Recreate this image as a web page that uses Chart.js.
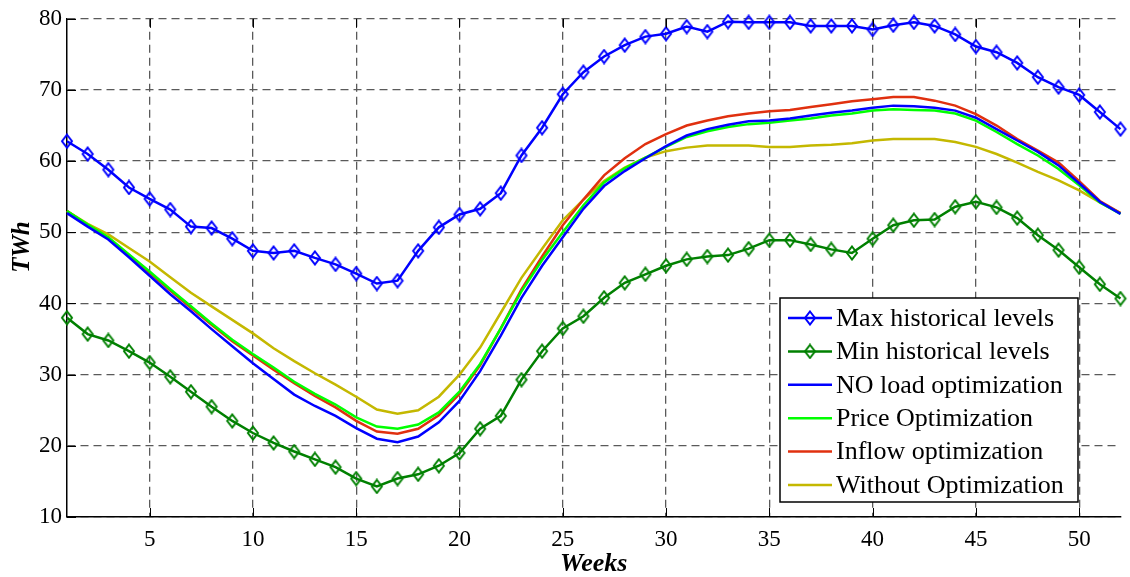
<!DOCTYPE html>
<html>
<head>
<meta charset="utf-8">
<script src="https://cdn.jsdelivr.net/npm/chart.js@4/dist/chart.umd.min.js"></script>
<style>
    body { margin: 0; background: #fff; }
    #wrap { width: 1130px; height: 577px; position: relative; }
</style>
</head>
<body>
<div id="wrap"><canvas id="chartLevels"></canvas></div>
<script>
// weekly reservoir levels, TWh
const weeks = [1, 2, 3, 4, 5, 6, 7, 8, 9, 10, 11, 12, 13, 14, 15, 16, 17, 18, 19, 20, 21, 22, 23, 24, 25, 26,
    27, 28, 29, 30, 31, 32, 33, 34, 35, 36, 37, 38, 39, 40, 41, 42, 43, 44, 45, 46, 47, 48, 49, 50, 51, 52];

const maxHistorical = [62.8, 61.0, 58.8, 56.3, 54.7, 53.2, 50.8, 50.6, 49.1, 47.4,
    47.1, 47.4, 46.4, 45.5, 44.2, 42.8, 43.2, 47.4, 50.7, 52.5,
    53.3, 55.5, 60.8, 64.7, 69.4, 72.5, 74.7, 76.3, 77.5, 77.9,
    78.9, 78.2, 79.6, 79.5, 79.5, 79.5, 79.0, 79.0, 79.0, 78.5,
    79.1, 79.5, 79.0, 77.8, 76.1, 75.3, 73.8, 71.8, 70.4, 69.3,
    66.9, 64.5];
const minHistorical = [38.0, 35.7, 34.8, 33.3, 31.7, 29.7, 27.6, 25.5, 23.5, 21.8,
    20.4, 19.2, 18.1, 17.0, 15.4, 14.3, 15.4, 16.0, 17.2, 19.0,
    22.4, 24.2, 29.3, 33.3, 36.5, 38.2, 40.8, 42.9, 44.1, 45.3,
    46.2, 46.6, 46.8, 47.7, 48.9, 48.9, 48.3, 47.6, 47.1, 49.1,
    51.0, 51.7, 51.8, 53.6, 54.3, 53.5, 52.0, 49.6, 47.5, 45.1,
    42.7, 40.7];
const noLoadOpt = [52.7, 50.8, 49.0, 46.5, 43.9, 41.3, 38.9, 36.4, 34.0, 31.6,
    29.4, 27.2, 25.6, 24.2, 22.5, 21.0, 20.5, 21.3, 23.3, 26.3,
    30.5, 35.5, 40.8, 45.3, 49.3, 53.3, 56.5, 58.6, 60.4, 62.1,
    63.6, 64.5, 65.1, 65.6, 65.7, 66.0, 66.4, 66.8, 67.1, 67.5,
    67.8, 67.7, 67.5, 67.1, 66.1, 64.5, 62.9, 61.3, 59.4, 56.9,
    54.3, 52.6];
const priceOpt = [53.0, 51.1, 49.3, 46.9, 44.5, 42.0, 39.6, 37.2, 34.9, 32.9,
    31.0, 29.0, 27.3, 25.8, 24.0, 22.7, 22.4, 23.0, 24.7, 27.6,
    31.5, 36.5, 41.7, 46.1, 50.0, 53.8, 57.0, 59.0, 60.5, 62.0,
    63.4, 64.2, 64.8, 65.2, 65.4, 65.7, 66.0, 66.4, 66.7, 67.1,
    67.3, 67.2, 67.1, 66.7, 65.7, 64.1, 62.4, 60.8, 58.9, 56.6,
    54.2, 52.6];
const inflowOpt = [53.0, 51.0, 49.2, 46.8, 44.3, 41.8, 39.4, 37.0, 34.7, 32.7,
    30.7, 28.8, 27.0, 25.4, 23.5, 22.0, 21.7, 22.4, 24.3, 27.3,
    31.3, 36.5, 42.0, 46.6, 51.0, 54.6, 58.0, 60.4, 62.4, 63.8,
    65.0, 65.7, 66.3, 66.7, 67.0, 67.2, 67.6, 68.0, 68.4, 68.7,
    69.0, 69.0, 68.5, 67.8, 66.6, 65.0, 63.1, 61.5, 59.8, 57.2,
    54.4, 52.7];
const withoutOpt = [53.0, 51.2, 49.7, 47.8, 45.9, 43.7, 41.5, 39.6, 37.7, 35.8,
    33.7, 31.9, 30.2, 28.6, 26.9, 25.1, 24.5, 25.0, 26.9, 30.0,
    33.8, 38.7, 43.6, 47.7, 51.7, 54.6, 57.2, 59.1, 60.5, 61.4,
    61.9, 62.2, 62.2, 62.2, 62.0, 62.0, 62.2, 62.3, 62.5, 62.9,
    63.1, 63.1, 63.1, 62.7, 62.0, 61.0, 59.8, 58.5, 57.3, 55.9,
    54.2, 52.7];

const seriesNames = ["Max historical levels", "Min historical levels", "NO load optimization",
    "Price Optimization", "Inflow optimization", "Without Optimization"];

const serif = "'Liberation Serif', 'Times New Roman', serif";

function diamond(color) {
    let c = document.createElement("canvas");
    c.width = 14;
    c.height = 16;
    let g = c.getContext("2d");
    g.strokeStyle = color;
    g.lineWidth = 2;
    g.beginPath();
    g.moveTo(7, 1.5);
    g.lineTo(12, 8);
    g.lineTo(7, 14.5);
    g.lineTo(2, 8);
    g.closePath();
    g.stroke();
    return c;
}

function toPoints(values) {
    return weeks.map((w, i) => ({ x: w, y: values[i] }));
}

function line(label, values, color, marker) {
    return {
        label: label,
        data: toPoints(values),
        borderColor: color,
        backgroundColor: color,
        borderWidth: 2.5,
        tension: 0,
        clip: false,
        pointStyle: marker ? diamond(color) : false,
        pointRadius: marker ? 7 : 0,
        marker: marker,
    };
}

// legend drawn inside the plot, bottom right, like the matlab figure
const boxLegend = {
    id: "boxLegend",
    afterDraw(chart) {
        let ctx = chart.ctx;
        let x0 = 780, y0 = 298, w = 298, h = 204;
        ctx.save();
        ctx.fillStyle = "#fff";
        ctx.fillRect(x0, y0, w, h);
        ctx.strokeStyle = "#000";
        ctx.lineWidth = 1.5;
        ctx.strokeRect(x0, y0, w, h);
        ctx.font = "26px " + serif;
        ctx.textBaseline = "middle";
        chart.data.datasets.forEach((ds, i) => {
            let y = y0 + 20 + i * 33.4;
            ctx.strokeStyle = ds.borderColor;
            ctx.lineWidth = 2.5;
            ctx.beginPath();
            ctx.moveTo(788, y);
            ctx.lineTo(832, y);
            ctx.stroke();
            if (ds.marker) {
                ctx.drawImage(ds.pointStyle, 810 - 7, y - 8);
            }
            ctx.fillStyle = "#000";
            ctx.fillText(ds.label, 836, y + 1);
        });
        ctx.restore();
    },
};

// inward tick marks + y label (sits a bit above the middle in the original)
const innerTicks = {
    id: "innerTicks",
    afterDatasetsDraw(chart) {
        let ctx = chart.ctx;
        let area = chart.chartArea;
        let xs = chart.scales.x, ys = chart.scales.y;
        ctx.save();
        ctx.strokeStyle = "#000";
        ctx.lineWidth = 1;
        ctx.beginPath();
        xs.ticks.forEach((t) => {
            let px = Math.round(xs.getPixelForValue(t.value)) + 0.5;
            ctx.moveTo(px, area.bottom);
            ctx.lineTo(px, area.bottom - 9);
            ctx.moveTo(px, area.top);
            ctx.lineTo(px, area.top + 9);
        });
        ys.ticks.forEach((t) => {
            let py = Math.round(ys.getPixelForValue(t.value)) + 0.5;
            ctx.moveTo(area.left, py);
            ctx.lineTo(area.left + 9, py);
        });
        ctx.stroke();

        ctx.translate(23, 247);
        ctx.rotate(-Math.PI / 2);
        ctx.font = "italic bold 25px " + serif;
        ctx.fillStyle = "#000";
        ctx.textAlign = "center";
        ctx.textBaseline = "middle";
        ctx.fillText("TWh", 0, 0);
        ctx.restore();
    },
};

let ctx = document.getElementById("chartLevels").getContext("2d");
let myChart = new Chart(ctx, {
    type: "line",
    data: {
        datasets: [
            line(seriesNames[0], maxHistorical, "#0000ff", true),
            line(seriesNames[1], minHistorical, "#008000", true),
            line(seriesNames[2], noLoadOpt, "#0000ff", false),
            line(seriesNames[3], priceOpt, "#00ff00", false),
            line(seriesNames[4], inflowOpt, "#e0300f", false),
            line(seriesNames[5], withoutOpt, "#c4b800", false),
        ],
    },
    options: {
        responsive: true,
        maintainAspectRatio: false,
        animation: false,
        devicePixelRatio: 1,
        layout: {
            padding: { top: 18, right: 4, left: 0, bottom: 0 },
        },
        plugins: {
            legend: { display: false },
            tooltip: { enabled: false },
        },
        scales: {
            x: {
                type: "linear",
                min: 1,
                max: 52,
                afterBuildTicks: (scale) => {
                    scale.ticks = scale.ticks.filter((t) => t.value % 5 === 0);
                },
                afterFit: (scale) => {
                    scale.height = 60;
                },
                ticks: {
                    stepSize: 5,
                    color: "#000",
                    padding: 9,
                    maxRotation: 0,
                    font: { family: serif, size: 23 },
                },
                grid: { color: "#5a5a5a", lineWidth: 1.3, drawTicks: false },
                border: { display: true, color: "#000", width: 1.5, dash: [8, 5] },
                title: {
                    display: true,
                    text: "Weeks",
                    color: "#000",
                    padding: { top: 0, bottom: 0 },
                    font: { family: serif, size: 26, weight: "bold", style: "italic", lineHeight: 1 },
                },
            },
            y: {
                min: 10,
                max: 80,
                afterFit: (scale) => {
                    scale.width = 67;
                },
                ticks: {
                    stepSize: 10,
                    color: "#000",
                    padding: 5,
                    font: { family: serif, size: 23 },
                },
                grid: { color: "#5a5a5a", lineWidth: 1.3, drawTicks: false },
                border: { display: true, color: "#000", width: 1.5, dash: [8, 5] },
            },
        },
    },
    plugins: [innerTicks, boxLegend],
});
</script>
</body>
</html>
